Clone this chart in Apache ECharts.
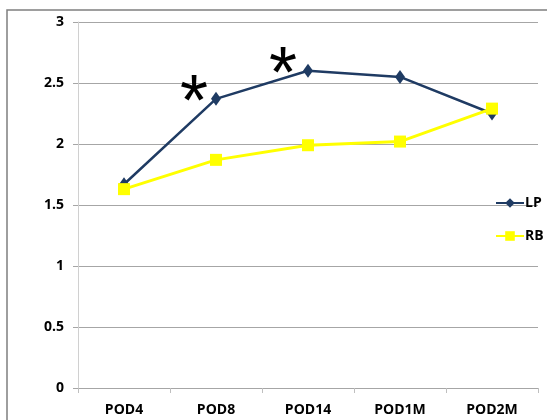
<!DOCTYPE html>
<html>
<head>
<meta charset="utf-8">
<script src="https://cdn.jsdelivr.net/npm/echarts@6/dist/echarts.min.js"></script>
<style>
  html, body { margin: 0; padding: 0; background: #fff; }
  #chart { width: 547px; height: 420px; }
</style>
</head>
<body>
<div id="chart"></div>
<script>
const categories = ['POD4', 'POD8', 'POD14', 'POD1M', 'POD2M']
const lpValues = [1.67, 2.37, 2.6, 2.55, 2.25]
const rbValues = [1.63, 1.87, 1.99, 2.02, 2.29]
// categories marked as significant
const starred = ['POD8', 'POD14']

const font = '"Open Sans", sans-serif'

const myChart = echarts.init(document.getElementById('chart'))
myChart.setOption({
  animation: false,
  grid: { left: 78, right: 9, top: 22, bottom: 32, containLabel: false },
  graphic: [{
    type: 'rect',
    shape: { x: 7, y: 10, width: 600, height: 500 },
    style: { fill: 'none', stroke: '#7f7f7f', lineWidth: 1.5 },
    silent: true
  }],
  legend: {
    orient: 'vertical',
    left: 490,
    top: 191,
    itemWidth: 28,
    itemHeight: 12,
    itemGap: 19,
    textStyle: { fontFamily: font, fontWeight: 'bold', fontSize: 14, color: '#000', padding: [0, 0, 0, -4] },
    data: ['LP', 'RB']
  },
  xAxis: {
    type: 'category',
    data: categories,
    boundaryGap: true,
    axisLine: { lineStyle: { color: '#a6a6a6', width: 1 } },
    axisTick: { show: true, length: 5, lineStyle: { color: '#bfbfbf' } },
    axisLabel: { fontFamily: font, fontWeight: 'bold', fontSize: 14, color: '#000', margin: 15 },
    splitLine: { show: false }
  },
  yAxis: {
    type: 'value',
    min: 0,
    max: 3,
    interval: 0.5,
    axisLine: { show: true, lineStyle: { color: '#d0d0d0', width: 1 } },
    axisTick: { show: true, length: 5, lineStyle: { color: '#a6a6a6' } },
    axisLabel: { fontFamily: font, fontWeight: 'bold', fontSize: 14, color: '#000', margin: 14 },
    splitLine: { lineStyle: { color: '#a6a6a6', width: 1 } }
  },
  series: [
    {
      name: 'LP',
      type: 'line',
      data: lpValues,
      symbol: 'diamond',
      symbolSize: [10, 14],
      lineStyle: { color: '#1f3b63', width: 2.5 },
      itemStyle: { color: '#1f3b63' },
      z: 3,
      markPoint: {
        symbol: 'circle',
        symbolSize: 0,
        label: {
          show: true,
          formatter: '*',
          fontFamily: 'Liberation Sans, sans-serif',
          fontSize: 72,
          color: '#000'
        },
        data: starred.map((c, i) => ({
          coord: [c, lpValues[categories.indexOf(c)]],
          label: { offset: i === 0 ? [-22, 6] : [-25, 6] }
        }))
      }
    },
    {
      name: 'RB',
      type: 'line',
      data: rbValues,
      symbol: 'rect',
      symbolSize: 12,
      lineStyle: { color: '#ffff00', width: 3 },
      itemStyle: { color: '#ffff00' },
      z: 4
    }
  ]
})
</script>
</body>
</html>
